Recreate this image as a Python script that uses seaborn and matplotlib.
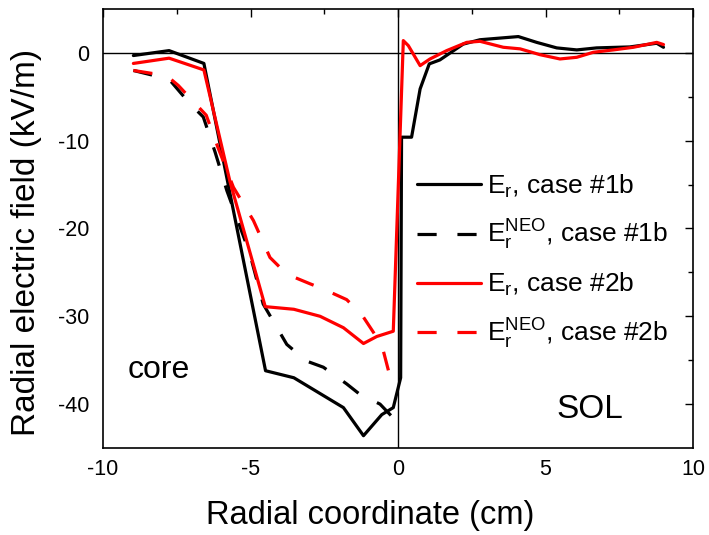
import matplotlib
matplotlib.use("Agg")
import matplotlib.pyplot as plt
import seaborn as sns

# ---- data ----
x_er1 = [-8.97, -7.76, -6.58, -4.49, -3.53, -1.85, -1.17, -0.55, -0.16, 0.09, 0.12, 0.46, 0.75, 1.06,
         1.42, 2.21, 2.78, 4.08, 4.70, 5.38, 6.06, 6.73, 7.86, 8.77, 9.0]
y_er1 = [-0.3, 0.26, -1.2, -36.2, -37.0, -40.4, -43.6, -41.2, -40.4, -37.0, -9.6, -9.6, -4.1, -1.25,
         -0.8, 1.0, 1.5, 1.86, 1.2, 0.57, 0.34, 0.57, 0.68, 1.1, 0.64]

x_neo1 = [-8.97, -7.76, -7.05, -6.6, -6.2, -5.8, -5.02, -4.57, -3.77, -3.1, -2.53, -1.74, -1.29,
          -0.61, -0.21]
y_neo1 = [-2.0, -3.0, -5.8, -7.3, -11.3, -15.7, -22.9, -28.6, -33.2, -35.1, -35.8, -37.7, -38.9,
          -40.0, -41.4]

x_er2 = [-8.97, -7.76, -6.58, -5.7, -4.5, -3.53, -2.64, -1.85, -1.17, -0.72, -0.16, 0.18, 0.35,
         0.75, 1.08, 1.65, 2.33, 2.78, 3.57, 4.14, 4.81, 5.49, 6.06, 6.62, 7.3, 7.98, 8.77, 9.0]
y_er2 = [-1.2, -0.6, -1.94, -14.6, -28.9, -29.2, -30.0, -31.3, -33.1, -32.3, -31.7, 1.4, 0.83,
         -1.45, -0.7, 0.26, 1.2, 1.32, 0.64, 0.46, -0.2, -0.69, -0.5, 0.07, 0.34, 0.64, 1.2, 0.95]

x_neo2 = [-8.97, -7.84, -7.45, -6.5, -6.1, -5.58, -4.9, -4.34, -3.77, -2.98, -2.53, -1.74, -1.23,
          -0.72, -0.5, -0.16]
y_neo2 = [-2.0, -2.6, -3.7, -7.1, -10.8, -15.3, -19.1, -23.3, -25.2, -26.3, -26.9, -28.1, -29.8,
          -32.4, -33.9, -38.3]

labels = [r"E$_\mathregular{r}$, case #1b",
          r"E$_\mathregular{r}^\mathregular{NEO}$, case #1b",
          r"E$_\mathregular{r}$, case #2b",
          r"E$_\mathregular{r}^\mathregular{NEO}$, case #2b"]
xticks = [-10, -5, 0, 5, 10]
yticks = [0, -10, -20, -30, -40]

# ---- style ----
sns.set_theme(style="white")
plt.rcParams["font.family"] = ["Liberation Sans", "DejaVu Sans"]
plt.rcParams["mathtext.fontset"] = "custom"
plt.rcParams["mathtext.rm"] = "Liberation Sans"
plt.rcParams["mathtext.it"] = "Liberation Sans:italic"

fig = plt.figure(figsize=(7.09, 5.35), dpi=100)
ax = fig.add_axes([103 / 709, 1 - 448 / 535, 590 / 709, 439 / 535])

lw = 2.3
dash = (0, (6, 6.5))
sns.lineplot(x=x_er1, y=y_er1, ax=ax, color="black", lw=lw, sort=False, estimator=None, label=labels[0])
sns.lineplot(x=x_neo1, y=y_neo1, ax=ax, color="black", lw=lw, sort=False, estimator=None,
             linestyle=dash, label=labels[1])
sns.lineplot(x=x_er2, y=y_er2, ax=ax, color="red", lw=lw, sort=False, estimator=None, label=labels[2])
sns.lineplot(x=x_neo2, y=y_neo2, ax=ax, color="red", lw=lw, sort=False, estimator=None,
             linestyle=dash, label=labels[3])

ax.axhline(0, color="black", lw=1.0, zorder=0.5)
ax.axvline(0, color="black", lw=1.0, zorder=0.5)

ax.set_xlim(-10, 10)
ax.set_ylim(-45, 5)
ax.set_xticks(xticks)
ax.set_yticks(yticks)
ax.set_xticks([-7.5, -2.5, 2.5, 7.5], minor=True)
ax.set_yticks([-5, -15, -25, -35], minor=True)
ax.set_xticklabels([str(t) for t in xticks])
ax.set_yticklabels([str(t) for t in yticks])
ax.tick_params(which="both", direction="in", top=True, right=True, labelsize=15.5, width=1.0,
               color="black", labelcolor="black")
ax.tick_params(axis="x", which="both", pad=8)
ax.tick_params(axis="y", which="both", pad=10)
ax.tick_params(which="major", length=6)
ax.tick_params(which="minor", length=3.5)
for s in ax.spines.values():
    s.set_color("black")
    s.set_linewidth(1.2)

ax.set_xlabel("Radial coordinate (cm)", fontsize=23.5, color="black")
ax.set_ylabel("Radial electric field (kV/m)", fontsize=24, color="black")
ax.xaxis.set_label_coords(0.4525, -0.118)
ax.yaxis.set_label_coords(-0.103, 0.469)

ax.text((159 - 103) / 590, 1 - (370 - 9) / 439, "core", fontsize=23, ha="center", va="center",
        transform=ax.transAxes, color="black")
ax.text((590 - 103) / 590, 1 - (410 - 9) / 439, "SOL", fontsize=24, ha="center", va="center",
        transform=ax.transAxes, color="black")

leg = ax.legend(loc="upper left", bbox_to_anchor=((414 - 103) / 590 - 0.012, 1 - (162 - 9) / 439),
                frameon=False, fontsize=19, handlelength=2.4, handletextpad=0.25,
                labelspacing=0.7, borderaxespad=0)
for t in leg.get_texts():
    t.set_color("black")

fig.savefig("out.png", dpi=100)
